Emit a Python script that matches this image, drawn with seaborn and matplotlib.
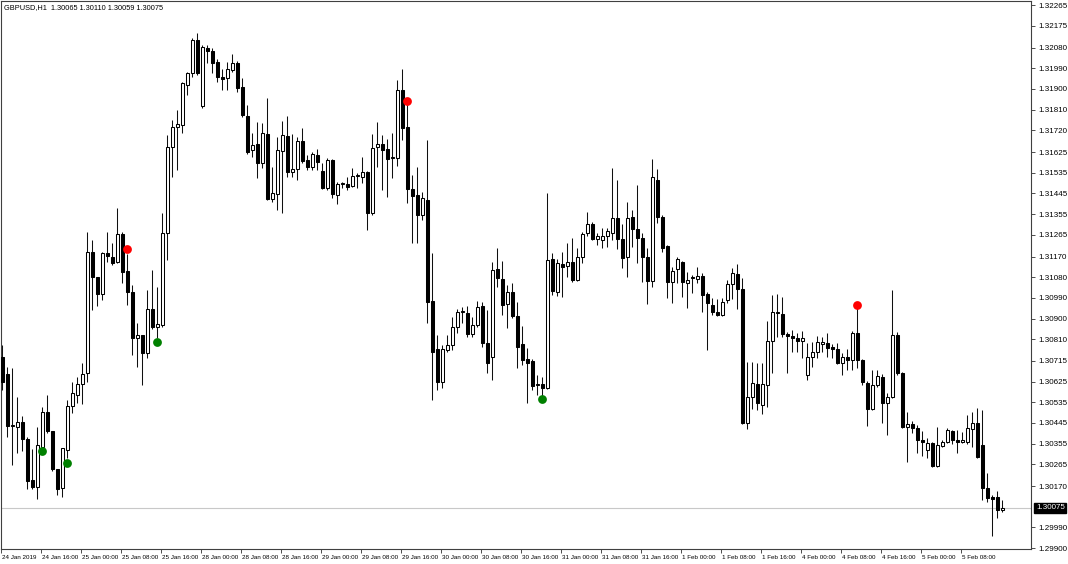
import matplotlib
matplotlib.use("Agg")
import matplotlib.pyplot as plt
import matplotlib.transforms as mtransforms
from matplotlib import font_manager
import numpy as np
import pandas as pd
import seaborn as sns

# ---------------- data ----------------
title_text = "GBPUSD,H1  1.30065 1.30110 1.30059 1.30075"

opens = [1.30732, 1.30658, 1.30432, 1.30427, 1.30449, 1.30375, 1.30197, 1.30166, 1.30340, 1.30493,
         1.30410, 1.30244, 1.30162, 1.30327, 1.30519, 1.30567, 1.30615, 1.30663, 1.31190, 1.31081,
         1.31007, 1.31185, 1.31168, 1.31146, 1.31268, 1.31107, 1.31015, 1.30815, 1.30828, 1.30750,
         1.30941, 1.30863, 1.30872, 1.31272, 1.31647, 1.31734, 1.31743, 1.31917, 1.31969, 1.32113,
         1.31825, 1.32078, 1.32065, 1.32017, 1.31952, 1.31947, 1.31982, 1.32013, 1.31908, 1.31782,
         1.31634, 1.31660, 1.31577, 1.31703, 1.31420, 1.31442, 1.31629, 1.31695, 1.31538, 1.31551,
         1.31673, 1.31590, 1.31560, 1.31612, 1.31542, 1.31468, 1.31590, 1.31438, 1.31486, 1.31486,
         1.31477, 1.31520, 1.31516, 1.31538, 1.31359, 1.31647, 1.31660, 1.31638, 1.31599, 1.31599,
         1.31895, 1.31734, 1.31464, 1.31438, 1.31351, 1.31416, 1.30976, 1.30767, 1.30623, 1.30763,
         1.30785, 1.30863, 1.30928, 1.30924, 1.30832, 1.30872, 1.30954, 1.30793, 1.30732, 1.31115,
         1.31072, 1.30963, 1.31015, 1.30911, 1.30789, 1.30724, 1.30715, 1.30610, 1.30615, 1.30597,
         1.31159, 1.31015, 1.31137, 1.31129, 1.31146, 1.31068, 1.31168, 1.31272, 1.31311, 1.31246,
         1.31242, 1.31259, 1.31272, 1.31338, 1.31246, 1.31168, 1.31342, 1.31290, 1.31250, 1.31168,
         1.31063, 1.31503, 1.31342, 1.31216, 1.31059, 1.31115, 1.31146, 1.31054, 1.31076, 1.31072,
         1.31085, 1.31007, 1.30959, 1.30928, 1.30915, 1.30980, 1.31050, 1.31094, 1.31028, 1.30445,
         1.30558, 1.30615, 1.30523, 1.30610, 1.30802, 1.30924, 1.30920, 1.30832, 1.30824, 1.30815,
         1.30802, 1.30654, 1.30732, 1.30754, 1.30789, 1.30793, 1.30776, 1.30767, 1.30706, 1.30732,
         1.30719, 1.30837, 1.30719, 1.30619, 1.30506, 1.30610, 1.30645, 1.30532, 1.30558, 1.30828,
         1.30663, 1.30427, 1.30440, 1.30423, 1.30371, 1.30327, 1.30358, 1.30258, 1.30345, 1.30362,
         1.30410, 1.30371, 1.30362, 1.30362, 1.30419, 1.30445, 1.30349, 1.30162, 1.30123, 1.30123,
         1.30065]

highs = [1.30785, 1.30689, 1.30684, 1.30558, 1.30475, 1.30384, 1.30332, 1.30427, 1.30515, 1.30567,
         1.30410, 1.30244, 1.30336, 1.30545, 1.30623, 1.30645, 1.30706, 1.31277, 1.31242, 1.31081,
         1.31190, 1.31277, 1.31229, 1.31381, 1.31277, 1.31181, 1.31046, 1.30880, 1.30828, 1.31024,
         1.31111, 1.31037, 1.31359, 1.31699, 1.31764, 1.31808, 1.31930, 1.31973, 1.32121, 1.32143,
         1.32091, 1.32091, 1.32078, 1.32030, 1.31986, 1.32017, 1.32052, 1.32021, 1.31947, 1.31830,
         1.31708, 1.31756, 1.31751, 1.31860, 1.31560, 1.31690, 1.31760, 1.31782, 1.31703, 1.31690,
         1.31730, 1.31612, 1.31625, 1.31638, 1.31577, 1.31599, 1.31595, 1.31494, 1.31494, 1.31516,
         1.31555, 1.31534, 1.31603, 1.31542, 1.31703, 1.31756, 1.31699, 1.31682, 1.31708, 1.31939,
         1.31986, 1.31834, 1.31525, 1.31560, 1.31451, 1.31677, 1.31185, 1.30828, 1.30785, 1.30828,
         1.30906, 1.30941, 1.30950, 1.30954, 1.30906, 1.30976, 1.30972, 1.30937, 1.31146, 1.31207,
         1.31150, 1.31046, 1.31054, 1.30972, 1.30867, 1.30771, 1.30724, 1.30654, 1.30645, 1.31446,
         1.31185, 1.31159, 1.31190, 1.31229, 1.31250, 1.31207, 1.31277, 1.31364, 1.31320, 1.31272,
         1.31294, 1.31294, 1.31555, 1.31503, 1.31311, 1.31407, 1.31372, 1.31481, 1.31272, 1.31207,
         1.31595, 1.31551, 1.31351, 1.31220, 1.31124, 1.31168, 1.31150, 1.31102, 1.31089, 1.31124,
         1.31098, 1.31015, 1.30989, 1.30985, 1.30989, 1.31068, 1.31120, 1.31137, 1.31076, 1.30710,
         1.30710, 1.30706, 1.30706, 1.30889, 1.31002, 1.31007, 1.30994, 1.30841, 1.30850, 1.30837,
         1.30846, 1.30793, 1.30798, 1.30824, 1.30819, 1.30837, 1.30789, 1.30793, 1.30750, 1.30767,
         1.30846, 1.30946, 1.30724, 1.30628, 1.30676, 1.30676, 1.30658, 1.30575, 1.31024, 1.30841,
         1.30667, 1.30493, 1.30453, 1.30436, 1.30410, 1.30379, 1.30362, 1.30427, 1.30371, 1.30423,
         1.30414, 1.30414, 1.30406, 1.30480, 1.30493, 1.30510, 1.30501, 1.30227, 1.30131, 1.30149,
         1.30110]

lows = [1.30589, 1.30384, 1.30262, 1.30314, 1.30323, 1.30157, 1.30157, 1.30114, 1.30332, 1.30401,
        1.30236, 1.30131, 1.30123, 1.30292, 1.30488, 1.30532, 1.30528, 1.30623, 1.30937, 1.30954,
        1.30980, 1.31146, 1.31133, 1.31142, 1.31054, 1.30959, 1.30741, 1.30689, 1.30610, 1.30728,
        1.30854, 1.30815, 1.30863, 1.31155, 1.31516, 1.31547, 1.31708, 1.31873, 1.31952, 1.31960,
        1.31817, 1.32013, 1.31969, 1.31930, 1.31895, 1.31895, 1.31973, 1.31886, 1.31777, 1.31616,
        1.31603, 1.31512, 1.31555, 1.31416, 1.31407, 1.31372, 1.31359, 1.31516, 1.31516, 1.31503,
        1.31577, 1.31547, 1.31547, 1.31547, 1.31464, 1.31459, 1.31425, 1.31399, 1.31468, 1.31459,
        1.31473, 1.31468, 1.31490, 1.31285, 1.31351, 1.31560, 1.31459, 1.31429, 1.31512, 1.31564,
        1.31677, 1.31403, 1.31229, 1.31229, 1.31329, 1.30880, 1.30545, 1.30589, 1.30597, 1.30754,
        1.30763, 1.30837, 1.30880, 1.30819, 1.30819, 1.30863, 1.30776, 1.30663, 1.30632, 1.31037,
        1.30915, 1.30859, 1.30902, 1.30684, 1.30697, 1.30532, 1.30589, 1.30567, 1.30554, 1.30593,
        1.31002, 1.30998, 1.30994, 1.31081, 1.31059, 1.31063, 1.31142, 1.31259, 1.31242, 1.31220,
        1.31207, 1.31211, 1.31242, 1.31203, 1.31120, 1.31081, 1.31211, 1.31142, 1.31059, 1.30963,
        1.31037, 1.31316, 1.31190, 1.30989, 1.30967, 1.31054, 1.30994, 1.30946, 1.31011, 1.31054,
        1.30928, 1.30763, 1.30915, 1.30911, 1.30911, 1.30967, 1.30985, 1.30941, 1.30440, 1.30419,
        1.30506, 1.30501, 1.30484, 1.30515, 1.30663, 1.30819, 1.30819, 1.30663, 1.30754, 1.30754,
        1.30728, 1.30632, 1.30689, 1.30728, 1.30754, 1.30732, 1.30728, 1.30702, 1.30654, 1.30676,
        1.30676, 1.30684, 1.30610, 1.30432, 1.30501, 1.30602, 1.30445, 1.30393, 1.30554, 1.30654,
        1.30423, 1.30275, 1.30401, 1.30314, 1.30301, 1.30292, 1.30253, 1.30253, 1.30340, 1.30358,
        1.30353, 1.30314, 1.30358, 1.30353, 1.30340, 1.30292, 1.30110, 1.30101, 1.29953, 1.30031,
        1.30059]

closes = [1.30623, 1.30432, 1.30436, 1.30449, 1.30375, 1.30192, 1.30166, 1.30349, 1.30493, 1.30410,
          1.30244, 1.30157, 1.30336, 1.30519, 1.30575, 1.30615, 1.30658, 1.31190, 1.31081, 1.31007,
          1.31185, 1.31172, 1.31142, 1.31268, 1.31102, 1.31015, 1.30815, 1.30828, 1.30750, 1.30941,
          1.30863, 1.30876, 1.31272, 1.31647, 1.31734, 1.31747, 1.31926, 1.31969, 1.32113, 1.31969,
          1.32082, 1.32065, 1.32013, 1.31952, 1.31943, 1.31986, 1.32013, 1.31904, 1.31786, 1.31625,
          1.31655, 1.31577, 1.31708, 1.31420, 1.31446, 1.31634, 1.31699, 1.31538, 1.31551, 1.31673,
          1.31586, 1.31560, 1.31616, 1.31581, 1.31468, 1.31590, 1.31442, 1.31486, 1.31490, 1.31473,
          1.31520, 1.31525, 1.31538, 1.31359, 1.31642, 1.31660, 1.31634, 1.31595, 1.31603, 1.31895,
          1.31730, 1.31464, 1.31433, 1.31351, 1.31425, 1.30972, 1.30754, 1.30623, 1.30767, 1.30785,
          1.30863, 1.30928, 1.30933, 1.30832, 1.30872, 1.30950, 1.30793, 1.30706, 1.31111, 1.31076,
          1.30959, 1.31015, 1.30911, 1.30776, 1.30719, 1.30706, 1.30606, 1.30615, 1.30597, 1.31155,
          1.31020, 1.31142, 1.31124, 1.31146, 1.31068, 1.31168, 1.31268, 1.31311, 1.31246, 1.31259,
          1.31259, 1.31281, 1.31338, 1.31246, 1.31163, 1.31338, 1.31290, 1.31250, 1.31168, 1.31063,
          1.31516, 1.31342, 1.31207, 1.31059, 1.31107, 1.31159, 1.31059, 1.31068, 1.31081, 1.31085,
          1.31002, 1.30967, 1.30928, 1.30915, 1.30972, 1.31050, 1.31098, 1.31028, 1.30445, 1.30558,
          1.30619, 1.30532, 1.30615, 1.30802, 1.30928, 1.30928, 1.30832, 1.30824, 1.30815, 1.30802,
          1.30815, 1.30732, 1.30754, 1.30798, 1.30798, 1.30771, 1.30767, 1.30706, 1.30732, 1.30719,
          1.30837, 1.30719, 1.30623, 1.30506, 1.30610, 1.30650, 1.30532, 1.30558, 1.30828, 1.30663,
          1.30427, 1.30440, 1.30423, 1.30371, 1.30362, 1.30358, 1.30258, 1.30349, 1.30362, 1.30414,
          1.30371, 1.30362, 1.30371, 1.30423, 1.30445, 1.30297, 1.30162, 1.30118, 1.30114, 1.30066,
          1.30075]

red_bars = [25, 81, 171]
red_prices = [1.31203, 1.31847, 1.30959]
green_bars = [8, 13, 31, 108]
green_prices = [1.30323, 1.30271, 1.30798, 1.30549]

time_labels = ["24 Jan 2019", "24 Jan 16:00", "25 Jan 00:00", "25 Jan 08:00", "25 Jan 16:00",
               "28 Jan 00:00", "28 Jan 08:00", "28 Jan 16:00", "29 Jan 00:00", "29 Jan 08:00",
               "29 Jan 16:00", "30 Jan 00:00", "30 Jan 08:00", "30 Jan 16:00", "31 Jan 00:00",
               "31 Jan 08:00", "31 Jan 16:00", "1 Feb 00:00", "1 Feb 08:00", "1 Feb 16:00",
               "4 Feb 00:00", "4 Feb 08:00", "4 Feb 16:00", "5 Feb 00:00", "5 Feb 08:00"]
bars_per_label = 8

price_ticks = [1.32265, 1.32175, 1.32080, 1.31990, 1.31900, 1.31810, 1.31720, 1.31625, 1.31535,
               1.31445, 1.31355, 1.31265, 1.31170, 1.31080, 1.30990, 1.30900, 1.30810, 1.30715,
               1.30625, 1.30535, 1.30445, 1.30355, 1.30265, 1.30170, 1.29990, 1.29900]
current_price = 1.30075

# ---------------- styling ----------------
sns.set_theme(style="white")
plt.rcParams['font.family'] = ['Liberation Sans', 'DejaVu Sans']

installed = {f.name for f in font_manager.fontManager.ttflist}
if "Liberation Sans Narrow" in installed:
    date_family, date_size = "Liberation Sans Narrow", 5.4
else:
    date_family, date_size = "Liberation Sans", 4.5

df = pd.DataFrame({"open": opens, "high": highs, "low": lows, "close": closes})
df["bar"] = np.arange(len(df))
df["bull"] = df["close"] >= df["open"]
df["body_low"] = df[["open", "close"]].min(axis=1)
df["body_h"] = (df["close"] - df["open"]).abs()

W, H = 1068, 564
fig = plt.figure(figsize=(W / 100, H / 100), dpi=100)
fig.patch.set_facecolor("white")
ax = fig.add_axes([1 / W, 15 / H, 1030 / W, 548 / H])
ax.set_facecolor("white")

# current price line
ax.axhline(current_price, color="#c8c8c8", lw=0.8, zorder=1)

# wicks
ax.vlines(df["bar"], df["low"], df["high"], color="#101010", lw=0.75, zorder=2)

# bodies
bull = df[df["bull"]]
bear = df[~df["bull"]]
ax.bar(bull["bar"], bull["body_h"], bottom=bull["body_low"], width=0.6,
       facecolor="white", edgecolor="black", linewidth=0.75, zorder=3)
ax.bar(bear["bar"], bear["body_h"], bottom=bear["body_low"], width=0.6,
       facecolor="black", edgecolor="black", linewidth=0.75, zorder=3)

# signal dots
sns.scatterplot(x=red_bars, y=red_prices, color="#ff0000", s=40, linewidth=0,
                ax=ax, legend=False, zorder=5)
sns.scatterplot(x=green_bars, y=green_prices, color="#008000", s=40, linewidth=0,
                ax=ax, legend=False, zorder=5)

ax.set_xlim(-0.2, 205.8)
ax.set_ylim(1.29896, 1.32283)

# y axis on right
ax.yaxis.tick_right()
ax.set_yticks(price_ticks)
ax.set_yticklabels([f"{v:.5f}" for v in price_ticks])
ax.tick_params(axis="y", direction="out", length=3, width=0.6, color="#303030",
               labelsize=5.8, pad=2, labelcolor="black")

# x axis
tick_pos = [i * bars_per_label - 0.2 for i in range(len(time_labels))]
ax.set_xticks(tick_pos)
ax.set_xticklabels(time_labels)
ax.tick_params(axis="x", direction="out", length=3, width=0.6, color="#303030",
               pad=1.5, labelcolor="black", bottom=True)
offset = mtransforms.ScaledTranslation(1.5 / 100, 0, fig.dpi_scale_trans)
for lbl in ax.get_xticklabels():
    lbl.set_horizontalalignment("left")
    lbl.set_family(date_family)
    lbl.set_fontsize(date_size)
    lbl.set_transform(lbl.get_transform() + offset)

for sp in ax.spines.values():
    sp.set_visible(True)
    sp.set_color("#404040")
    sp.set_linewidth(0.8)

ax.grid(False)
ax.set_xlabel("")
ax.set_ylabel("")

# current price tag
trans = mtransforms.blended_transform_factory(ax.transAxes, ax.transData)
ax.text(1.0 + 5 / 1030, current_price, f"{current_price:.5f}", transform=trans,
        color="white", fontsize=5.8, ha="left", va="center", zorder=6,
        bbox=dict(facecolor="black", edgecolor="black", boxstyle="square,pad=0.2"),
        clip_on=False)

# title
ax.text(3 / 1030, 1 - 7 / 548, title_text, transform=ax.transAxes, fontsize=5.3,
        ha="left", va="center", color="black")

fig.savefig("out.png", dpi=100, facecolor="white")
